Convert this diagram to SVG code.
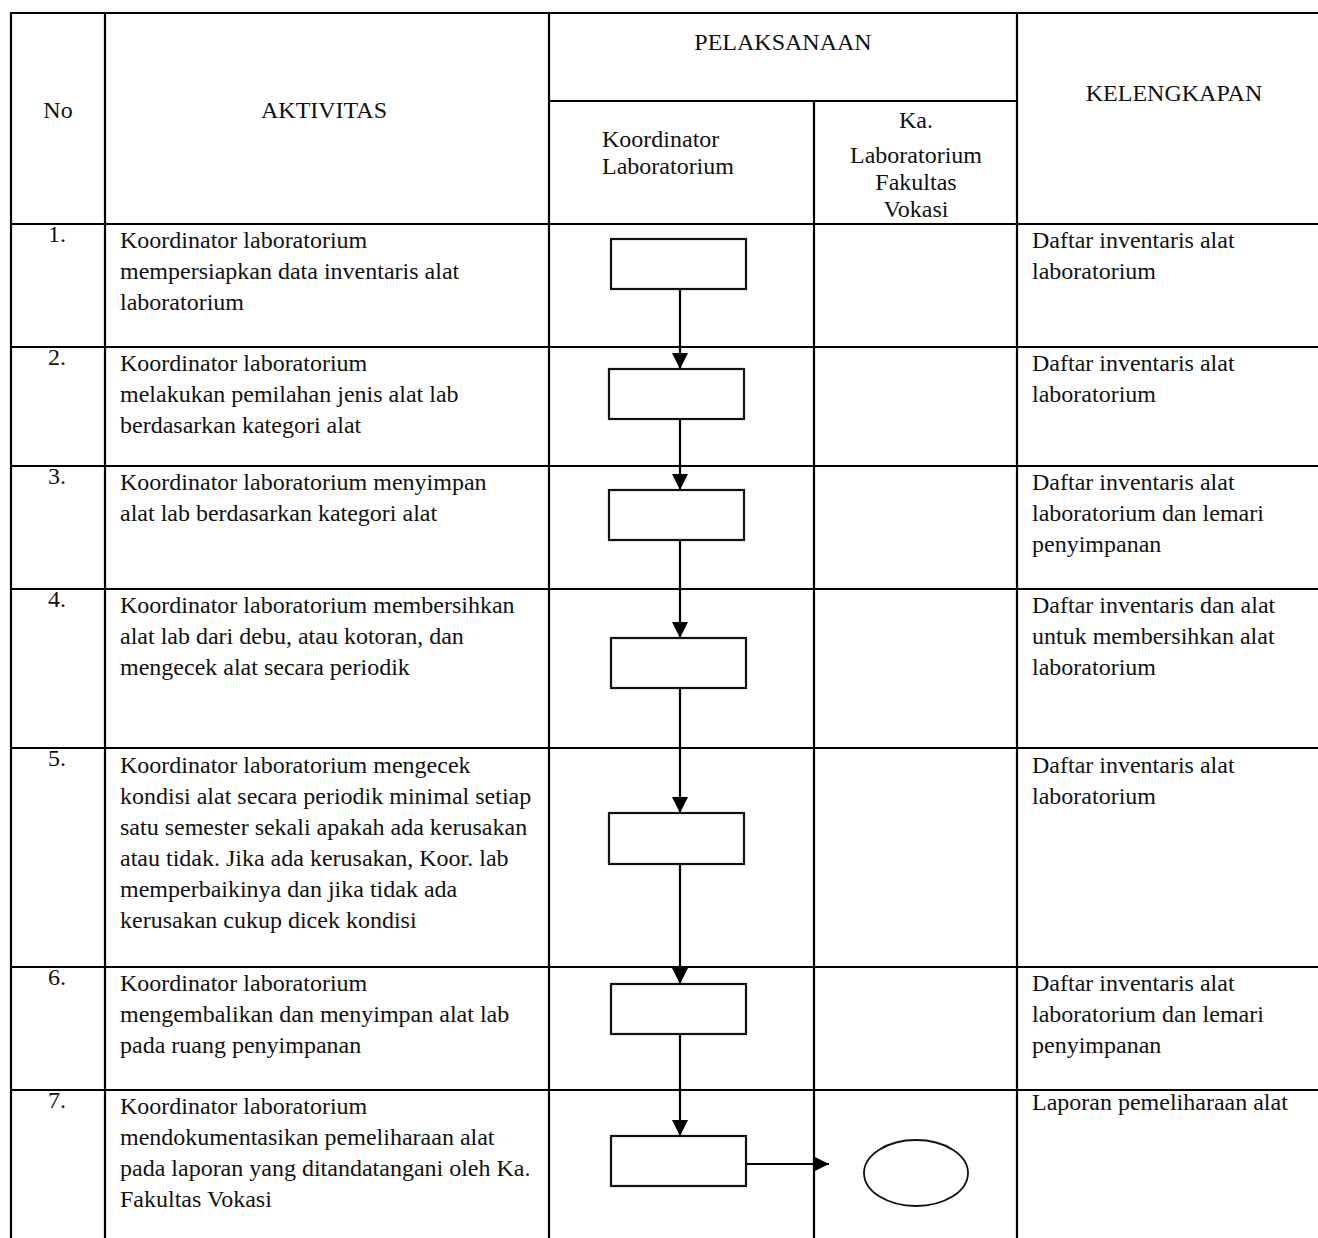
<svg xmlns="http://www.w3.org/2000/svg" width="1318" height="1238" viewBox="0 0 1318 1238">
<style>
.grid line{stroke:#000;stroke-width:2.2}
.box{fill:#fff;stroke:#111;stroke-width:2.2}
.conn{stroke:#000;stroke-width:2.2;fill:none}
text{font-family:"Liberation Serif","Times New Roman",serif;font-size:24px;fill:#111}
.c{text-anchor:middle}
</style>
<defs>
<marker id="arrow" viewBox="0 0 16 16" refX="16" refY="8" markerWidth="16" markerHeight="16" orient="auto" markerUnits="userSpaceOnUse">
<path d="M0,0 L16,8 L0,16 z" fill="#000"/>
</marker>
</defs>
<rect width="1318" height="1238" fill="#fff"/>
<g id="table" class="grid">
<line x1="10" y1="13" x2="1318" y2="13"/>
<line x1="549" y1="101" x2="1017" y2="101"/>
<line x1="10" y1="224" x2="1318" y2="224"/>
<line x1="10" y1="347" x2="1318" y2="347"/>
<line x1="10" y1="466" x2="1318" y2="466"/>
<line x1="10" y1="589" x2="1318" y2="589"/>
<line x1="10" y1="748" x2="1318" y2="748"/>
<line x1="10" y1="967" x2="1318" y2="967"/>
<line x1="10" y1="1090" x2="1318" y2="1090"/>
<line x1="11" y1="12" x2="11" y2="1238"/>
<line x1="105" y1="13" x2="105" y2="1238"/>
<line x1="549" y1="13" x2="549" y2="1238"/>
<line x1="814" y1="101" x2="814" y2="1238"/>
<line x1="1017" y1="13" x2="1017" y2="1238"/>
</g>
<g id="header">
<text class="c" x="58" y="118">No</text>
<text class="c" x="324" y="118">AKTIVITAS</text>
<text class="c" x="783" y="50">PELAKSANAAN</text>
<text class="c" x="1174" y="101">KELENGKAPAN</text>
<text x="602" y="147">Koordinator</text>
<text x="602" y="174">Laboratorium</text>
<text class="c" x="916" y="128">Ka.</text>
<text class="c" x="916" y="163">Laboratorium</text>
<text class="c" x="916" y="190">Fakultas</text>
<text class="c" x="916" y="217">Vokasi</text>
</g>
<g id="row1">
<text class="c" x="57" y="242">1.</text>
<text x="120" y="248">Koordinator laboratorium</text>
<text x="120" y="279">mempersiapkan data inventaris alat</text>
<text x="120" y="310">laboratorium</text>
<text x="1032" y="248">Daftar inventaris alat</text>
<text x="1032" y="279">laboratorium</text>
</g>
<g id="row2">
<text class="c" x="57" y="365">2.</text>
<text x="120" y="371">Koordinator laboratorium</text>
<text x="120" y="402">melakukan pemilahan jenis alat lab</text>
<text x="120" y="433">berdasarkan kategori alat</text>
<text x="1032" y="371">Daftar inventaris alat</text>
<text x="1032" y="402">laboratorium</text>
</g>
<g id="row3">
<text class="c" x="57" y="484">3.</text>
<text x="120" y="490">Koordinator laboratorium menyimpan</text>
<text x="120" y="521">alat lab berdasarkan kategori alat</text>
<text x="1032" y="490">Daftar inventaris alat</text>
<text x="1032" y="521">laboratorium dan lemari</text>
<text x="1032" y="552">penyimpanan</text>
</g>
<g id="row4">
<text class="c" x="57" y="607">4.</text>
<text x="120" y="613">Koordinator laboratorium membersihkan</text>
<text x="120" y="644">alat lab dari debu, atau kotoran, dan</text>
<text x="120" y="675">mengecek alat secara periodik</text>
<text x="1032" y="613">Daftar inventaris dan alat</text>
<text x="1032" y="644">untuk membersihkan alat</text>
<text x="1032" y="675">laboratorium</text>
</g>
<g id="row5">
<text class="c" x="57" y="766">5.</text>
<text x="120" y="773">Koordinator laboratorium mengecek</text>
<text x="120" y="804">kondisi alat secara periodik minimal setiap</text>
<text x="120" y="835">satu semester sekali apakah ada kerusakan</text>
<text x="120" y="866">atau tidak. Jika ada kerusakan, Koor. lab</text>
<text x="120" y="897">memperbaikinya dan jika tidak ada</text>
<text x="120" y="928">kerusakan cukup dicek kondisi</text>
<text x="1032" y="773">Daftar inventaris alat</text>
<text x="1032" y="804">laboratorium</text>
</g>
<g id="row6">
<text class="c" x="57" y="985">6.</text>
<text x="120" y="991">Koordinator laboratorium</text>
<text x="120" y="1022">mengembalikan dan menyimpan alat lab</text>
<text x="120" y="1053">pada ruang penyimpanan</text>
<text x="1032" y="991">Daftar inventaris alat</text>
<text x="1032" y="1022">laboratorium dan lemari</text>
<text x="1032" y="1053">penyimpanan</text>
</g>
<g id="row7">
<text class="c" x="57" y="1108">7.</text>
<text x="120" y="1114">Koordinator laboratorium</text>
<text x="120" y="1145">mendokumentasikan pemeliharaan alat</text>
<text x="120" y="1176">pada laporan yang ditandatangani oleh Ka.</text>
<text x="120" y="1207">Fakultas Vokasi</text>
<text x="1032" y="1110">Laporan pemeliharaan alat</text>
</g>
<g id="connectors" class="conn">
<line x1="680" y1="289" x2="680" y2="369" marker-end="url(#arrow)"/>
<line x1="680" y1="419" x2="680" y2="490" marker-end="url(#arrow)"/>
<line x1="680" y1="540" x2="680" y2="638" marker-end="url(#arrow)"/>
<line x1="680" y1="688" x2="680" y2="813" marker-end="url(#arrow)"/>
<line x1="680" y1="864" x2="680" y2="984" marker-end="url(#arrow)"/>
<line x1="680" y1="1034" x2="680" y2="1136" marker-end="url(#arrow)"/>
<line x1="746" y1="1164" x2="829" y2="1164" marker-end="url(#arrow)"/>
</g>
<g id="node1"><rect class="box" x="611" y="239" width="135" height="50"/></g>
<g id="node2"><rect class="box" x="609" y="369" width="135" height="50"/></g>
<g id="node3"><rect class="box" x="609" y="490" width="135" height="50"/></g>
<g id="node4"><rect class="box" x="611" y="638" width="135" height="50"/></g>
<g id="node5"><rect class="box" x="609" y="813" width="135" height="51"/></g>
<g id="node6"><rect class="box" x="611" y="984" width="135" height="50"/></g>
<g id="node7"><rect class="box" x="611" y="1136" width="135" height="50"/></g>
<g id="node8"><ellipse cx="916" cy="1173" rx="52" ry="33" fill="#fff" stroke="#111" stroke-width="1.8"/></g>
</svg>
